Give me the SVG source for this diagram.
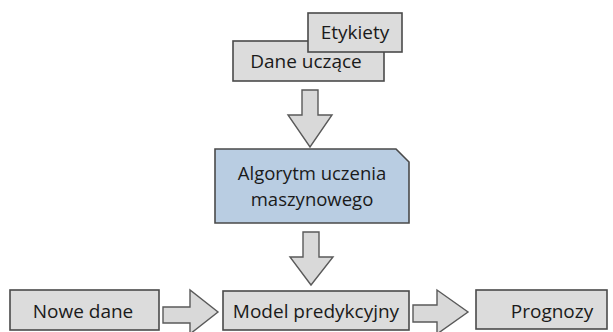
<svg xmlns="http://www.w3.org/2000/svg" width="613" height="332" viewBox="0 0 613 332">
<style>
.box{fill:#dcdcdc;stroke:#4a4a4a;stroke-width:1.6}
.algo{fill:#b9cde2;stroke:#4a4a4a;stroke-width:1.6}
.arrow{fill:#d9d9d9;stroke:#5a5a5a;stroke-width:1.4;stroke-linejoin:miter}
text{font-family:"Open Sans","Liberation Sans",sans-serif;font-size:19px;fill:#1a1a1a;text-anchor:middle}
.two{font-size:18.5px}
</style>
<rect width="613" height="332" fill="#ffffff"/>
<g id="connectors">
<path class="arrow" d="M302,90 H318 V115 H332 L310,147 L288,115 H302 Z"/>
<path class="arrow" d="M303,232 H319 V257 H333 L311,285 L290,257 H303 Z"/>
<path class="arrow" d="M163,307 H190 V290 L218,312 L190,334 V323 H163 Z"/>
<path class="arrow" d="M413,305 H437 V290 L468,312 L437,334 V322 H413 Z"/>
</g>
<g id="dane">
<rect class="box" x="233" y="41" width="151" height="40"/>
<text x="306" y="68">Dane uczące</text>
</g>
<g id="etykiety">
<rect class="box" x="308" y="13" width="94" height="39"/>
<text x="355" y="39">Etykiety</text>
</g>
<g id="algorytm">
<path class="algo" d="M215,149 H396 L409,162 V223 H215 Z"/>
<text class="two" x="312" y="180">Algorytm uczenia</text>
<text class="two" x="312" y="206">maszynowego</text>
</g>
<g id="nowe">
<rect class="box" x="10" y="290" width="149" height="40"/>
<text x="83" y="318">Nowe dane</text>
</g>
<g id="model">
<rect class="box" x="223" y="291" width="186" height="39"/>
<text x="316" y="318">Model predykcyjny</text>
</g>
<g id="prognozy">
<rect class="box" x="476" y="290" width="131" height="39"/>
<text x="552" y="318">Prognozy</text>
</g>
</svg>
